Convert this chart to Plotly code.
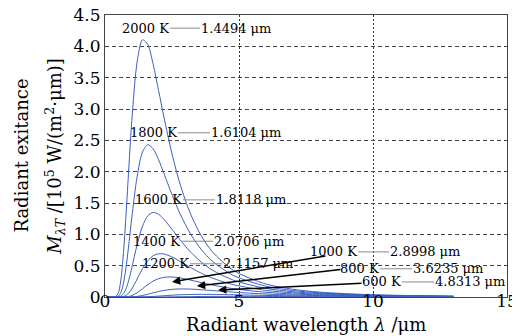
import plotly.graph_objects as go

# ---- data ----
wavelength = [0.1, 0.3, 0.4, 0.5, 0.6, 0.7, 0.8, 0.9, 1.0, 1.2, 1.4, 1.6, 1.8, 2.0,
              2.2, 2.5, 2.8, 3.2, 3.6, 4.0, 4.8, 6.0, 7.0, 8.0, 10.0, 13.0]

M_2000 = [0, 0, 0.0057, 0.0676, 0.2986, 0.7662, 1.420, 2.141, 2.813, 3.755, 4.105, 4.024, 3.707,
          3.295, 2.869, 2.285, 1.803, 1.317, 0.971, 0.725, 0.422, 0.208, 0.124, 0.078, 0.036, 0.014]
M_1800 = [0, 0, 0.0008, 0.0137, 0.0788, 0.2446, 0.5228, 0.8806, 1.264, 1.927, 2.314, 2.431, 2.362,
          2.189, 1.971, 1.633, 1.328, 1.000, 0.754, 0.573, 0.343, 0.173, 0.104, 0.067, 0.031, 0.012]
M_1600 = [0, 0, 0.0001, 0.0019, 0.0149, 0.0587, 0.1499, 0.2901, 0.4653, 0.8373, 1.131, 1.298, 1.349,
          1.319, 1.239, 1.080, 0.913, 0.714, 0.555, 0.431, 0.267, 0.138, 0.085, 0.055, 0.026, 0.010]
M_1400 = [0, 0, 0, 0.0001, 0.0018, 0.0094, 0.0301, 0.0696, 0.1288, 0.2870, 0.4515, 0.5803, 0.6585,
          0.6899, 0.6859, 0.6387, 0.5682, 0.4682, 0.3780, 0.3031, 0.1956, 0.1059, 0.0666, 0.0437,
          0.0209, 0.0084]
M_1200 = [0, 0, 0, 0, 0.0001, 0.0008, 0.0035, 0.0104, 0.0232, 0.0689, 0.1328, 0.1987, 0.2537,
          0.2920, 0.3133, 0.3192, 0.3045, 0.2694, 0.2296, 0.1920, 0.1316, 0.0755, 0.0490, 0.0329,
          0.0162, 0.0067]
M_1000 = [0, 0, 0, 0, 0, 0, 0.0002, 0.0007, 0.0021, 0.0093, 0.0239, 0.0444, 0.0669, 0.0879,
          0.1050, 0.1217, 0.1283, 0.1257, 0.1158, 0.1030, 0.0771, 0.0481, 0.0327, 0.0227,
          0.0116, 0.0050]
M_800 = [0, 0, 0, 0, 0, 0, 0, 0, 0.0001, 0.0005, 0.0018, 0.0047, 0.0091, 0.0145, 0.0205,
         0.0288, 0.0354, 0.0406, 0.0422, 0.0412, 0.0355, 0.0253, 0.0185, 0.0135, 0.0074, 0.0034]
M_600 = [0, 0, 0, 0, 0, 0, 0, 0, 0, 0, 0, 0.0001, 0.0003, 0.0007, 0.0013, 0.0026, 0.0042,
         0.0062, 0.0079, 0.0091, 0.0100, 0.0090, 0.0075, 0.0060, 0.0037, 0.0019]

series = [M_2000, M_1800, M_1600, M_1400, M_1200, M_1000, M_800, M_600]

temp_labels = ["2000 K", "1800 K", "1600 K", "1400 K", "1200 K", "1000 K", "800 K", "600 K"]
peak_labels = ["1.4494 μm", "1.6104 μm", "1.8118 μm", "2.0706 μm", "2.1157 μm",
               "2.8998 μm", "3.6235 μm", "4.8313 μm"]

x_ticks = [0, 5, 10, 15]
y_ticks = [0, 0.5, 1.0, 1.5, 2.0, 2.5, 3.0, 3.5, 4.0, 4.5]
y_ticktext = ["0", "0.5", "1.0", "1.5", "2.0", "2.5", "3.0", "3.5", "4.0", "4.5"]

x_title = "Radiant wavelength <i>λ</i> /μm"
y_title_1 = "Radiant exitance"
y_title_2 = "<i>M</i><sub><i>λT</i></sub> /[10<sup>5</sup> W/(m<sup>2</sup>·μm)]"

# ---- label layout (positions in axis units) ----
conn_x0 = [2.43, 2.72, 2.91, 2.84, 3.17, 9.44, 10.26, 11.08]
conn_x1 = [3.54, 3.92, 4.10, 4.03, 4.37, 10.60, 11.46, 12.28]
conn_y = [4.29, 2.62, 1.55, 0.89, 0.53, 0.72, 0.45, 0.24]

arrow_tip = [(2.50, 0.24), (3.43, 0.175), (4.22, 0.11)]
arrow_tail = [(8.28, 0.66), (8.84, 0.44), (9.63, 0.22)]

FONT = "DejaVu Serif"
BLUE = "#3b5fc0"

fig = go.Figure()
for vals in series:
    fig.add_trace(go.Scatter(x=wavelength, y=vals, mode="lines",
                             line=dict(color=BLUE, width=1, shape="spline", smoothing=0.8),
                             showlegend=False, hoverinfo="skip"))

annotations = []
shapes = []
for t, p, x0, x1, y in zip(temp_labels, peak_labels, conn_x0, conn_x1, conn_y):
    shapes.append(dict(type="line", xref="x", yref="y", x0=x0, x1=x1, y0=y, y1=y,
                       line=dict(color="#8a8a8a", width=1)))
    annotations.append(dict(x=x0, y=y, xref="x", yref="y", text=t, showarrow=False,
                            xanchor="right", yanchor="middle", borderpad=0,
                            font=dict(family=FONT, size=13, color="black")))
    annotations.append(dict(x=x1, y=y, xref="x", yref="y", text=p, showarrow=False,
                            xanchor="left", yanchor="middle", borderpad=0,
                            font=dict(family=FONT, size=13, color="black")))

for (tx, ty), (ax, ay) in zip(arrow_tip, arrow_tail):
    annotations.append(dict(x=tx, y=ty, ax=ax, ay=ay, xref="x", yref="y", axref="x", ayref="y",
                            text="", showarrow=True, arrowhead=2, arrowsize=1.1,
                            arrowwidth=1.5, arrowcolor="black", standoff=0, startstandoff=0))

# axis titles as free text
annotations.append(dict(x=0.5, y=-0.097, xref="paper", yref="paper", text=x_title,
                        showarrow=False, xanchor="center", yanchor="middle",
                        font=dict(family=FONT, size=18, color="black")))
annotations.append(dict(x=-0.21, y=0.5, xref="paper", yref="paper", text=y_title_1,
                        showarrow=False, xanchor="center", yanchor="middle", textangle=-90,
                        font=dict(family=FONT, size=18, color="black")))
annotations.append(dict(x=-0.125, y=0.5, xref="paper", yref="paper", text=y_title_2,
                        showarrow=False, xanchor="center", yanchor="middle", textangle=-90,
                        font=dict(family=FONT, size=18, color="black")))

fig.update_layout(
    width=512, height=328,
    margin=dict(l=97, r=13, t=7, b=39, autoexpand=False),
    paper_bgcolor="white", plot_bgcolor="white",
    font=dict(family=FONT, color="black"),
    shapes=shapes, annotations=annotations,
    xaxis=dict(range=[0, 15], tickvals=x_ticks, showgrid=True, gridcolor="#333",
               griddash="2px,2px", gridwidth=1, zeroline=False, showline=True, linecolor="#444",
               linewidth=1, mirror=True, ticks="inside", ticklen=4, tickcolor="#444",
               automargin=False, ticklabeloverflow="allow", ticklabelstandoff=-11,
               tickfont=dict(family=FONT, size=17, color="black")),
    yaxis=dict(range=[0, 4.5], tickvals=y_ticks, ticktext=y_ticktext, showgrid=True,
               gridcolor="#444", griddash="4px,3px", gridwidth=1, zeroline=False, showline=True,
               linecolor="#444", linewidth=1, mirror=True, ticks="inside", ticklen=4,
               tickcolor="#444", automargin=False, ticklabeloverflow="allow",
               tickfont=dict(family=FONT, size=17, color="black")),
)

fig.write_html("out.html")
